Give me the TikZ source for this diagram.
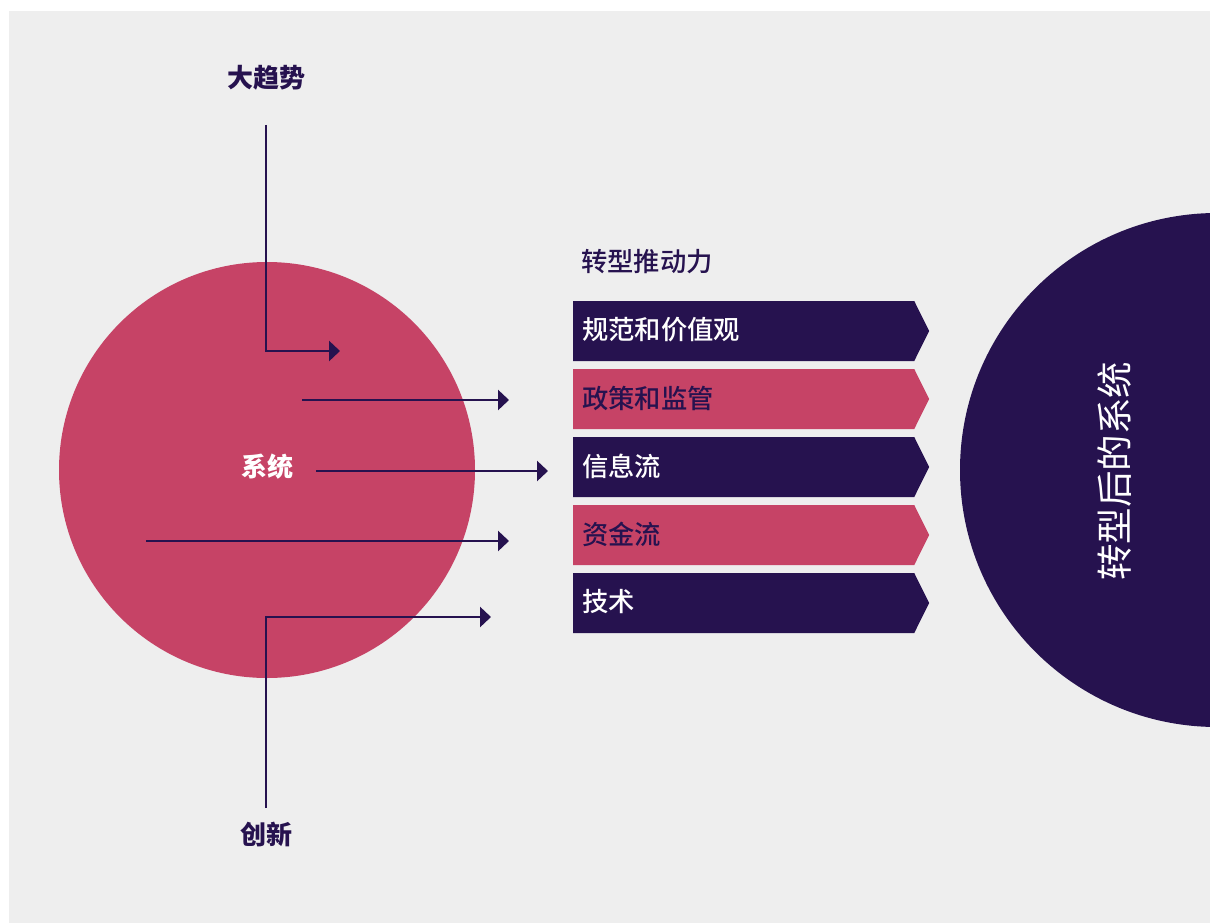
\documentclass[tikz,border=0pt]{standalone}
\usepackage{fontspec}
\setmainfont{Noto Sans CJK SC}
\newfontfamily\midfont{Noto Sans CJK SC Medium}
\usetikzlibrary{arrows.meta,shapes.symbols}
\definecolor{deep}{HTML}{26124F}
\definecolor{rose}{HTML}{C64366}
\definecolor{paper}{HTML}{EEEEEE}

\tikzset{
  flow/.style={draw=deep,line width=2.7pt,-{Triangle[length=11pt,width=20pt]}},
  chevron/.style={signal,signal to=east,signal pointer angle=127,
    minimum width=356pt,minimum height=60pt,inner sep=0pt,anchor=west},
  boxtext/.style={anchor=west,inner sep=0pt,font=\midfont\fontsize{26.3}{26.3}\selectfont},
  headtext/.style={text=deep,inner sep=0pt,font=\midfont\fontsize{26.3}{26.3}\selectfont},
  boldtext/.style={headtext,font=\fontsize{26}{26}\selectfont\bfseries}
}

\begin{document}
\begin{tikzpicture}[x=1pt,y=-1pt]
    \useasboundingbox (0,0) rectangle (1210,923);
    \fill[paper] (9,11) rectangle (1210,923);

    \node[circle,fill=rose,minimum size=416pt,inner sep=0pt] (sys) at (267,470) {};
    \node[circle,fill=deep,minimum size=514pt,inner sep=0pt] (newsys) at (1217,470) {};
    \node[rotate=90,text=white,inner sep=0pt,font=\fontsize{36.5}{36.5}\selectfont] (newlabel) at (1115,471) {转型后的系统};

    \node[boldtext] (trend) at (266,78) {大趋势};
    \node[boldtext] (innov) at (266,835) {创新};
    \node[boldtext,text=white] (syslabel) at (267,467) {系统};
    \node[headtext,anchor=west] (drivers) at (581,262) {转型推动力};

    \node[chevron,fill=deep] (b1) at (573,331) {};
    \node[chevron,fill=rose] (b2) at (573,399) {};
    \node[chevron,fill=deep] (b3) at (573,467) {};
    \node[chevron,fill=rose] (b4) at (573,535) {};
    \node[chevron,fill=deep] (b5) at (573,603) {};

    \node[boxtext,text=white] (t1) at (582,330) {规范和价值观};
    \node[boxtext,text=deep] (t2) at (582,398) {政策和监管};
    \node[boxtext,text=white] (t3) at (582,466) {信息流};
    \node[boxtext,text=deep] (t4) at (582,534) {资金流};
    \node[boxtext,text=white] (t5) at (582,602) {技术};

    \coordinate (a1s) at (266,125);
    \coordinate (a1e) at (340,351);
    \coordinate (a2s) at (302,400);
    \coordinate (a2e) at (509,400);
    \coordinate (a3s) at (316,471);
    \coordinate (a3e) at (548,471);
    \coordinate (a4s) at (146,541);
    \coordinate (a4e) at (509,541);
    \coordinate (a5s) at (266,808);
    \coordinate (a5e) at (491,617);

    \draw[flow] (a1s) |- (a1e);
    \draw[flow] (a2s) -- (a2e);
    \draw[flow] (a3s) -- (a3e);
    \draw[flow] (a4s) -- (a4e);
    \draw[flow] (a5s) |- (a5e);
  \end{tikzpicture}
\end{document}
